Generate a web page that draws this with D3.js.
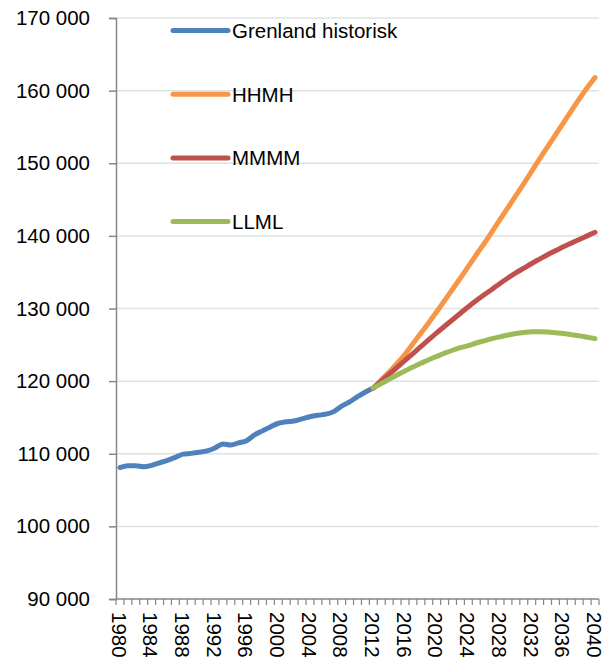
<!DOCTYPE html>
<html>
<head>
<meta charset="utf-8">
<script src="https://cdn.jsdelivr.net/npm/d3@7"></script>
<style>
  body { margin: 0; background: #fff; }
  svg text { font-family: Arial, "Liberation Sans", sans-serif; fill: #000; }
</style>
</head>
<body>
<svg id="chart"></svg>
<script>
// years on the category axis
const years = d3.range(1980, 2041);
const tickYears = d3.range(1980, 2041, 4);
const yTicks = [90000, 100000, 110000, 120000, 130000, 140000, 150000, 160000, 170000];

// Grenland historisk, 1980-2012
const histYears = d3.range(1980, 2013);
const histValues = [108100, 108350, 108350, 108200, 108400, 108750, 109100, 109500, 109950, 110050,
  110200, 110400, 110800, 111350, 111200, 111500, 111800, 112600, 113150, 113700,
  114200, 114400, 114500, 114800, 115100, 115300, 115450, 115800, 116550, 117150,
  117850, 118500, 119050];

// projections, 2012-2040
const projYears = d3.range(2012, 2041);
const hhmhValues = [119050, 120150, 121250, 122450, 123700, 125150, 126600, 128050, 129550, 131100,
  132650, 134200, 135800, 137400, 138950, 140600, 142250, 143900, 145550, 147200,
  148900, 150600, 152250, 153900, 155550, 157200, 158850, 160400, 161800];
const mmmmValues = [119050, 120000, 120950, 121900, 122850, 123800, 124750, 125700, 126650, 127550,
  128450, 129350, 130250, 131100, 131900, 132650, 133450, 134200, 134900, 135550,
  136200, 136800, 137400, 137950, 138500, 139000, 139500, 140000, 140500];
const llmlValues = [119050, 119650, 120250, 120850, 121400, 121950, 122450, 122950, 123400, 123850,
  124250, 124600, 124900, 125250, 125550, 125850, 126100, 126350, 126550, 126700,
  126800, 126800, 126750, 126650, 126550, 126400, 126250, 126050, 125850];

const seriesNames = ['Grenland historisk', 'HHMH', 'MMMM', 'LLML'];
const seriesColors = ['#4f81bd', '#f79646', '#c0504d', '#9bbb59'];

const width = 613, height = 660;
const plot = { left: 116, right: 599, top: 18, bottom: 599 };

const svg = d3.select('#chart').attr('width', width).attr('height', height);

const x = d3.scalePoint().domain(years).range([plot.left, plot.right]).padding(0.5);
const y = d3.scaleLinear().domain([90000, 170000]).range([plot.bottom, plot.top]);
const fmt = d3.formatLocale({ thousands: ' ', grouping: [3], decimal: ',', currency: ['', ''] }).format(',');

// gridlines
svg.append('g')
  .selectAll('line')
  .data(yTicks.filter(d => d > 90000))
  .enter().append('line')
  .attr('x1', plot.left).attr('x2', plot.right)
  .attr('y1', d => y(d)).attr('y2', d => y(d))
  .attr('stroke', '#dde3e3')
  .attr('stroke-width', 1.5);

// y axis
const yAxis = svg.append('g')
  .attr('transform', `translate(${plot.left},0)`)
  .call(d3.axisLeft(y).tickValues(yTicks).tickFormat(fmt).tickSize(7).tickPadding(19));
yAxis.select('.domain').attr('stroke', '#868686').attr('stroke-width', 1.5);
yAxis.selectAll('.tick line').attr('stroke', '#868686').attr('stroke-width', 1.5);
yAxis.selectAll('.tick text').attr('font-size', 20.5).attr('font-family', 'Arial, "Liberation Sans", sans-serif').attr('fill', '#000');

// x axis: line plus a tick at every category boundary
const step = x.step();
const boundaries = d3.range(years.length + 1).map(i => plot.left + i * step);
const xg = svg.append('g');
xg.append('line')
  .attr('x1', plot.left).attr('x2', plot.right)
  .attr('y1', plot.bottom).attr('y2', plot.bottom)
  .attr('stroke', '#868686').attr('stroke-width', 1.5);
xg.selectAll('line.tk')
  .data(boundaries)
  .enter().append('line')
  .attr('class', 'tk')
  .attr('x1', d => d).attr('x2', d => d)
  .attr('y1', plot.bottom).attr('y2', plot.bottom + 6)
  .attr('stroke', '#868686').attr('stroke-width', 1.2);
xg.selectAll('text')
  .data(tickYears)
  .enter().append('text')
  .attr('transform', d => `translate(${x(d) - 1},${plot.bottom + 13}) rotate(90)`)
  .attr('dy', '0.35em')
  .attr('font-size', 20.5)
  .text(d => d);

// lines (smoothed like the original)
const line = d3.line().x(d => x(d[0])).y(d => y(d[1])).curve(d3.curveMonotoneX);
const seriesData = [
  d3.zip(histYears, histValues),
  d3.zip(projYears, hhmhValues),
  d3.zip(projYears, mmmmValues),
  d3.zip(projYears, llmlValues)
];
svg.append('g')
  .selectAll('path')
  .data(seriesData)
  .enter().append('path')
  .attr('d', line)
  .attr('fill', 'none')
  .attr('stroke', (d, i) => seriesColors[i])
  .attr('stroke-width', 5)
  .attr('stroke-linecap', 'round')
  .attr('stroke-linejoin', 'round');

// legend
const legend = svg.append('g')
  .selectAll('g')
  .data(seriesNames)
  .enter().append('g')
  .attr('transform', (d, i) => `translate(173,${30.5 + i * 63.7})`);
legend.append('line')
  .attr('x1', 0).attr('x2', 55)
  .attr('stroke', (d, i) => seriesColors[i])
  .attr('stroke-width', 5)
  .attr('stroke-linecap', 'round');
legend.append('text')
  .attr('x', 59)
  .attr('dy', '0.36em')
  .attr('font-size', 20.5)
  .text(d => d);
</script>
</body>
</html>
